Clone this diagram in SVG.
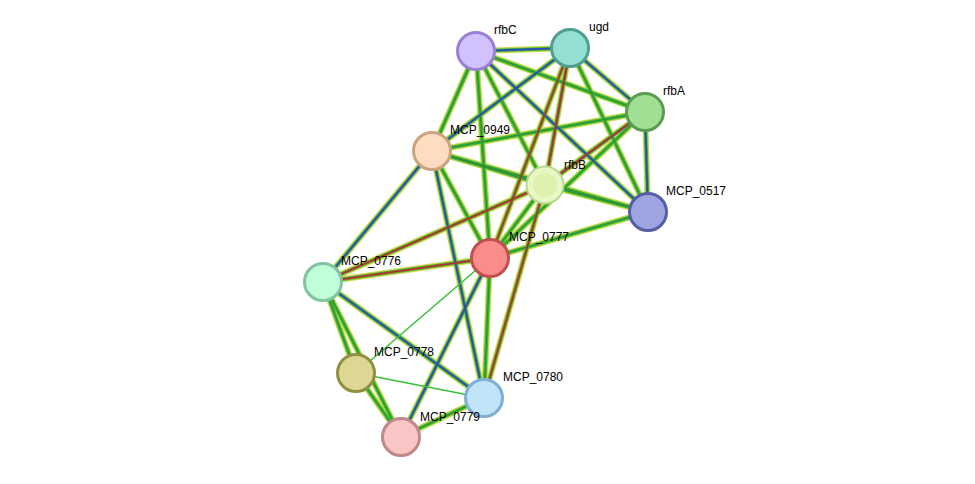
<svg xmlns="http://www.w3.org/2000/svg" xmlns:xlink="http://www.w3.org/1999/xlink" width="975" height="484" viewBox="0 0 975 484">
<style>
.n{stroke-width:3}
text{font-family:"Liberation Sans",Arial,sans-serif;font-size:12px;fill:#000}
</style>
<defs>
<g id="All">
<line x1="476" y1="51" x2="570" y2="48"/><line x1="476" y1="51" x2="645" y2="112"/><line x1="476" y1="51" x2="432" y2="151"/><line x1="476" y1="51" x2="545" y2="185"/><line x1="476" y1="51" x2="648" y2="212"/><line x1="476" y1="51" x2="490" y2="258"/>
<line x1="570" y1="48" x2="645" y2="112"/><line x1="570" y1="48" x2="432" y2="151"/><line x1="570" y1="48" x2="545" y2="185"/><line x1="570" y1="48" x2="648" y2="212"/><line x1="570" y1="48" x2="490" y2="258"/>
<line x1="645" y1="112" x2="432" y2="151"/><line x1="645" y1="112" x2="545" y2="185"/><line x1="645" y1="112" x2="648" y2="212"/><line x1="645" y1="112" x2="490" y2="258"/>
<line x1="432" y1="151" x2="545" y2="185"/><line x1="432" y1="151" x2="490" y2="258"/><line x1="432" y1="151" x2="323" y2="282"/><line x1="432" y1="151" x2="484" y2="398"/><line x1="432" y1="151" x2="648" y2="212"/>
<line x1="545" y1="185" x2="648" y2="212"/><line x1="545" y1="185" x2="490" y2="258"/><line x1="545" y1="185" x2="323" y2="282"/><line x1="545" y1="185" x2="484" y2="398"/>
<line x1="648" y1="212" x2="490" y2="258"/><line x1="490" y1="258" x2="323" y2="282"/><line x1="490" y1="258" x2="484" y2="398"/><line x1="490" y1="258" x2="401" y2="437"/>
<line x1="323" y1="282" x2="484" y2="398"/><line x1="323" y1="282" x2="356" y2="373"/><line x1="323" y1="282" x2="401" y2="437"/>
<line x1="356" y1="373" x2="401" y2="437"/><line x1="484" y1="398" x2="401" y2="437"/>
</g>
<g id="Blue">
<line x1="476" y1="51" x2="570" y2="48"/><line x1="476" y1="51" x2="648" y2="212"/><line x1="570" y1="48" x2="645" y2="112"/><line x1="570" y1="48" x2="432" y2="151"/><line x1="645" y1="112" x2="648" y2="212"/><line x1="645" y1="112" x2="545" y2="185"/><line x1="432" y1="151" x2="323" y2="282"/><line x1="432" y1="151" x2="484" y2="398"/><line x1="490" y1="258" x2="401" y2="437"/><line x1="323" y1="282" x2="484" y2="398"/><line x1="570" y1="48" x2="545" y2="185"/>
</g>
<g id="Red">
<line x1="570" y1="48" x2="545" y2="185"/><line x1="570" y1="48" x2="490" y2="258"/><line x1="645" y1="112" x2="545" y2="185"/><line x1="545" y1="185" x2="323" y2="282"/><line x1="545" y1="185" x2="484" y2="398"/><line x1="490" y1="258" x2="323" y2="282"/>
</g>
</defs>
<g id="connectors" fill="none">
<use href="#All" stroke="#c8d848" stroke-width="6"/>
<use href="#All" stroke="#38b838" stroke-width="3.5"/>
<use href="#Blue" stroke="#3050e0" stroke-width="2"/>
<use href="#Red" stroke="#e03030" stroke-width="2"/>
<use href="#All" stroke="#305030" stroke-width="0.8" opacity="0.6"/>
<line x1="490" y1="258" x2="356" y2="373" stroke="#38c038" stroke-width="1.5"/>
<line x1="356" y1="373" x2="484" y2="398" stroke="#38c038" stroke-width="1.5"/>
</g>
<g id="rfbC"><circle class="n" cx="476" cy="51" r="18.5" fill="#d1c2fd" stroke="#9a80d4"/><text x="494" y="34">rfbC</text></g>
<g id="ugd"><circle class="n" cx="570" cy="48" r="18.5" fill="#93dfd3" stroke="#4f9e90"/><text x="589" y="31">ugd</text></g>
<g id="rfbA"><circle class="n" cx="645" cy="112" r="18.5" fill="#a1e094" stroke="#5b9c52"/><text x="663" y="95">rfbA</text></g>
<g id="MCP_0949"><circle class="n" cx="432" cy="151" r="18.5" fill="#fddcbf" stroke="#c9a47f"/><text x="450" y="134">MCP_0949</text></g>
<g id="rfbB"><circle cx="545" cy="185" r="18.5" fill="#e9f7c6" stroke="#b8d890" stroke-width="2"/><circle cx="545" cy="185" r="12" fill="#d8f0a8" opacity="0.8"/><text x="564" y="169">rfbB</text></g>
<g id="MCP_0517"><circle class="n" cx="648" cy="212" r="18.5" fill="#9ea5e2" stroke="#5560a4"/><text x="666" y="195">MCP_0517</text></g>
<g id="MCP_0777"><circle class="n" cx="490" cy="258" r="18.5" fill="#fb8c8c" stroke="#c24f4f"/><text x="509" y="241">MCP_0777</text></g>
<g id="MCP_0776"><circle class="n" cx="323" cy="282" r="18.5" fill="#c1fdd9" stroke="#80c4a0"/><text x="341" y="265">MCP_0776</text></g>
<g id="MCP_0778"><circle class="n" cx="356" cy="373" r="18.5" fill="#dcd893" stroke="#909042"/><text x="374" y="356">MCP_0778</text></g>
<g id="MCP_0780"><circle class="n" cx="484" cy="398" r="18.5" fill="#c1e4f9" stroke="#7fb0d2"/><text x="503" y="381">MCP_0780</text></g>
<g id="MCP_0779"><circle class="n" cx="401" cy="437" r="18.5" fill="#f9c5c5" stroke="#c08888"/><text x="420" y="421">MCP_0779</text></g>
</svg>
